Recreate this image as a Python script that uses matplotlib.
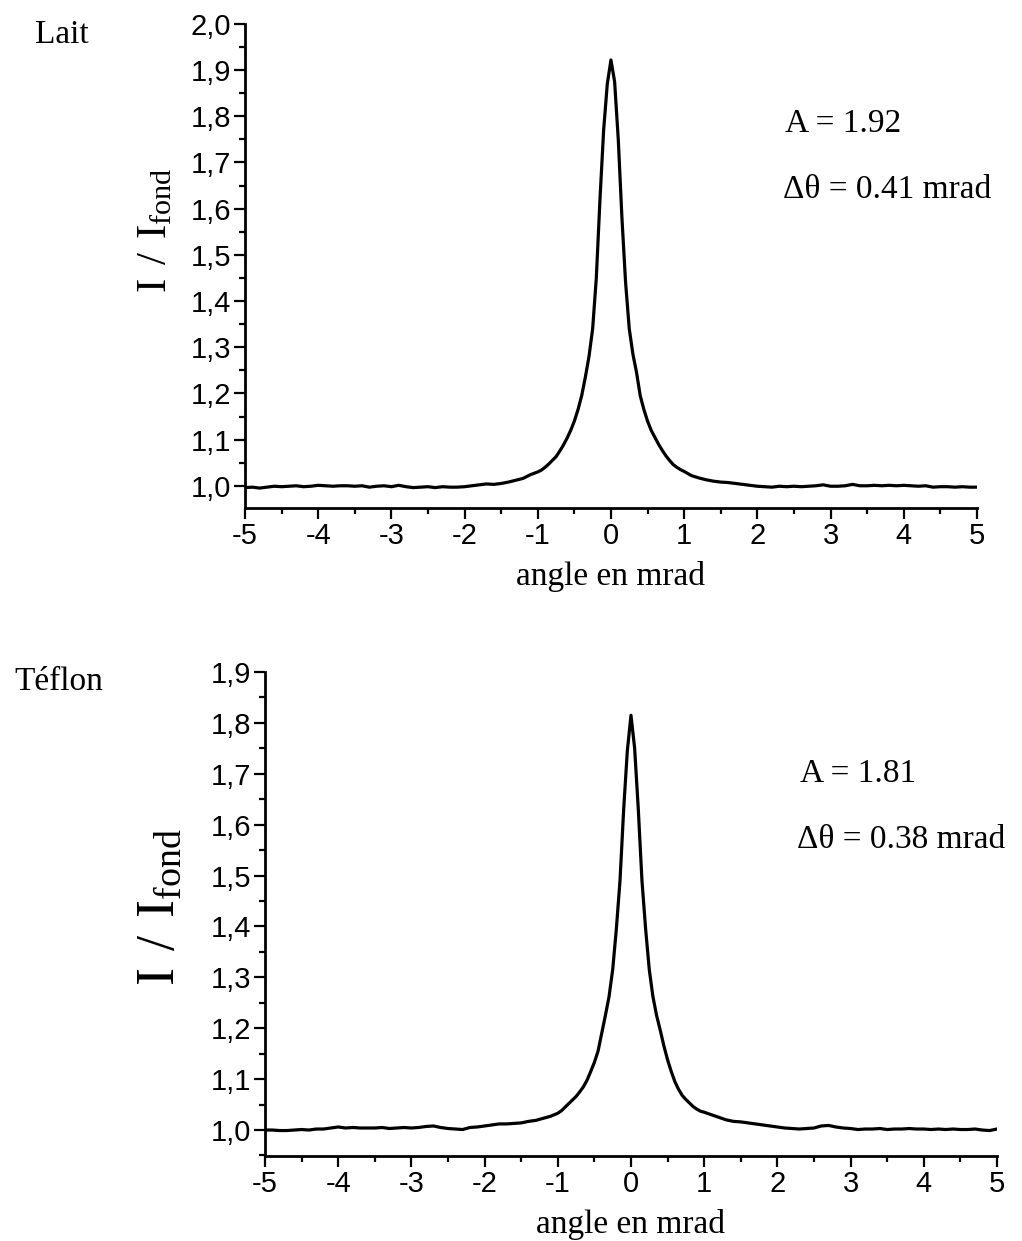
import matplotlib
matplotlib.use("Agg")
import matplotlib.pyplot as plt
from matplotlib.ticker import MultipleLocator

## data (angle in mrad, I / I_fond)
lait_x = [-5.0, -4.9, -4.8, -4.7, -4.6, -4.5, -4.4, -4.3, -4.2, -4.1, -4.0, -3.9, -3.8, -3.7,
          -3.6, -3.5, -3.4, -3.3, -3.2, -3.1, -3.0, -2.9, -2.8, -2.7, -2.6, -2.5, -2.4, -2.3,
          -2.2, -2.1, -2.0, -1.9, -1.8, -1.7, -1.6, -1.5, -1.4, -1.3, -1.2, -1.1, -1.0, -0.95,
          -0.9, -0.85, -0.8, -0.75, -0.7, -0.65, -0.6, -0.55, -0.5, -0.45, -0.4, -0.35, -0.3,
          -0.25, -0.2, -0.15, -0.1, -0.05, 0.0, 0.05, 0.1, 0.15, 0.2, 0.25, 0.3, 0.35, 0.4,
          0.45, 0.5, 0.55, 0.6, 0.65, 0.7, 0.75, 0.8, 0.85, 0.9, 0.95, 1.0, 1.1, 1.2, 1.3, 1.4,
          1.5, 1.6, 1.7, 1.8, 1.9, 2.0, 2.1, 2.2, 2.3, 2.4, 2.5, 2.6, 2.7, 2.8, 2.9, 3.0, 3.1,
          3.2, 3.3, 3.4, 3.5, 3.6, 3.7, 3.8, 3.9, 4.0, 4.1, 4.2, 4.3, 4.4, 4.5, 4.6, 4.7, 4.8,
          4.9, 5.0]
lait_y = [0.996, 0.997, 0.995, 0.997, 0.999, 0.998, 0.999, 1.000, 0.998, 0.999, 1.001, 1.000,
          0.999, 1.000, 1.000, 0.999, 1.000, 0.997, 0.999, 1.000, 0.998, 1.001, 0.998, 0.996,
          0.997, 0.998, 0.996, 0.998, 0.997, 0.997, 0.998, 1.000, 1.002, 1.004, 1.003, 1.005,
          1.008, 1.012, 1.016, 1.024, 1.030, 1.034, 1.040, 1.047, 1.055, 1.063, 1.075, 1.088,
          1.103, 1.120, 1.140, 1.165, 1.195, 1.235, 1.280, 1.340, 1.450, 1.620, 1.770, 1.870,
          1.922, 1.875, 1.750, 1.580, 1.440, 1.340, 1.285, 1.245, 1.195, 1.165, 1.140, 1.120,
          1.105, 1.090, 1.077, 1.065, 1.055, 1.046, 1.040, 1.035, 1.031, 1.022, 1.017, 1.013,
          1.010, 1.008, 1.007, 1.005, 1.003, 1.001, 0.999, 0.998, 0.997, 0.999, 0.998, 0.999,
          0.998, 0.999, 1.000, 1.002, 0.999, 0.999, 1.000, 1.003, 1.000, 1.000, 1.001, 1.000,
          1.001, 1.000, 1.001, 1.000, 0.999, 1.000, 0.997, 0.998, 0.998, 0.997, 0.998, 0.997,
          0.997]

teflon_x = lait_x
teflon_y = [1.000, 1.000, 0.999, 0.999, 1.000, 1.001, 1.000, 1.002, 1.002, 1.004, 1.006, 1.004,
            1.005, 1.004, 1.004, 1.004, 1.005, 1.003, 1.004, 1.005, 1.004, 1.005, 1.007, 1.008,
            1.005, 1.003, 1.002, 1.001, 1.005, 1.006, 1.008, 1.010, 1.012, 1.012, 1.013, 1.014,
            1.017, 1.019, 1.023, 1.027, 1.033, 1.038, 1.045, 1.052, 1.059, 1.066, 1.075, 1.085,
            1.098, 1.115, 1.133, 1.155, 1.190, 1.225, 1.262, 1.315, 1.395, 1.490, 1.630, 1.745,
            1.815, 1.750, 1.630, 1.490, 1.395, 1.315, 1.262, 1.225, 1.196, 1.165, 1.138, 1.115,
            1.095, 1.080, 1.068, 1.060, 1.053, 1.046, 1.041, 1.037, 1.035, 1.030, 1.025, 1.020,
            1.017, 1.016, 1.014, 1.012, 1.010, 1.008, 1.006, 1.004, 1.003, 1.002, 1.003, 1.004,
            1.008, 1.009, 1.006, 1.004, 1.003, 1.001, 1.002, 1.002, 1.003, 1.001, 1.002, 1.002,
            1.003, 1.002, 1.002, 1.001, 1.002, 1.001, 1.002, 1.001, 1.001, 1.002, 1.000, 0.999,
            1.002]

x_ticks = [-5, -4, -3, -2, -1, 0, 1, 2, 3, 4, 5]
lait_yticks = [1.0, 1.1, 1.2, 1.3, 1.4, 1.5, 1.6, 1.7, 1.8, 1.9, 2.0]
teflon_yticks = [1.0, 1.1, 1.2, 1.3, 1.4, 1.5, 1.6, 1.7, 1.8, 1.9]

serif = 'Liberation Serif'
sans = 'Liberation Sans'
plt.rcParams['mathtext.fontset'] = 'custom'
plt.rcParams['mathtext.rm'] = serif

fig = plt.figure(figsize=(10.22, 12.41), dpi=100)
ax1 = fig.add_axes([0.2397, 0.5907, 0.7162, 0.390])
ax2 = fig.add_axes([0.2593, 0.0685, 0.7162, 0.390])


def style(ax, yticks, ylim, ysize):
    ax.set_xlim(-5, 5)
    ax.set_ylim(*ylim)
    for s in ['top', 'right']:
        ax.spines[s].set_visible(False)
    for s in ['left', 'bottom']:
        ax.spines[s].set_linewidth(2.0)
    ax.set_xticks(x_ticks)
    ax.set_xticklabels([str(t) for t in x_ticks], fontfamily=sans, fontsize=21)
    ax.set_yticks(yticks)
    ax.set_yticklabels([f"{t:.1f}".replace('.', ',') for t in yticks], fontfamily=sans, fontsize=21)
    ax.xaxis.set_minor_locator(MultipleLocator(0.5))
    ax.yaxis.set_minor_locator(MultipleLocator(0.05))
    ax.tick_params(which='major', direction='out', length=8, width=1.6, pad=2)
    ax.tick_params(which='minor', direction='out', length=4.5, width=1.6)
    ax.set_xlabel("angle en mrad", fontfamily=serif, fontsize=24, labelpad=8)
    ax.set_ylabel(r"$\mathrm{I\ /\ I_{fond}}$", fontsize=ysize)


ax1.plot(lait_x, lait_y, color='black', lw=2.3)
style(ax1, lait_yticks, (0.952, 2.0), 31)
ax1.yaxis.set_label_coords(-0.095, 0.574)

ax2.plot(teflon_x, teflon_y, color='black', lw=2.3)
style(ax2, teflon_yticks, (0.949, 1.9), 39)
ax2.yaxis.set_label_coords(-0.11, 0.515)

fig.text(0.034, 0.9653, "Lait", fontfamily=serif, fontsize=24)
fig.text(0.014, 0.444, "Téflon", fontfamily=serif, fontsize=24)
fig.text(0.768, 0.8936, "A = 1.92", fontfamily=serif, fontsize=24)
fig.text(0.766, 0.8405, "Δθ = 0.41 mrad", fontfamily=serif, fontsize=24)
fig.text(0.783, 0.370, "A = 1.81", fontfamily=serif, fontsize=24)
fig.text(0.780, 0.3167, "Δθ = 0.38 mrad", fontfamily=serif, fontsize=24)

fig.savefig("out.png", dpi=100)
